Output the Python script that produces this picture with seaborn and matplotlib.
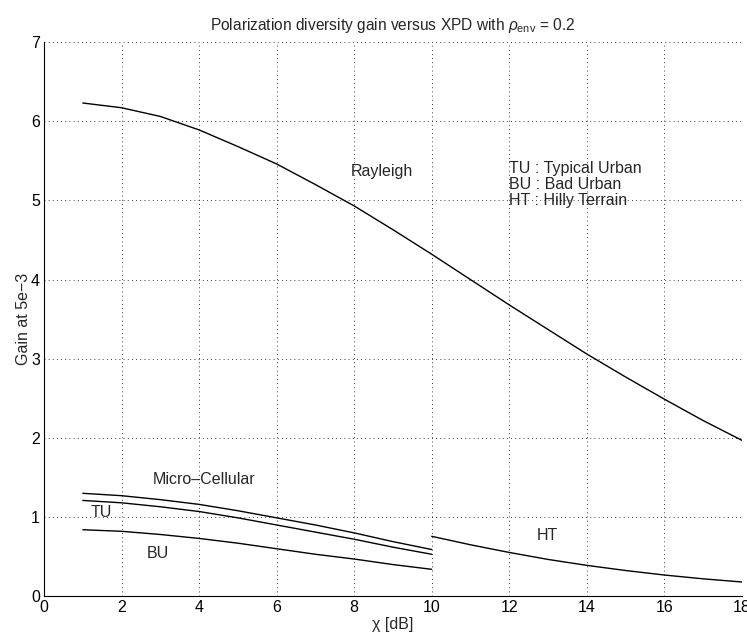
import matplotlib
matplotlib.use("Agg")
import matplotlib.pyplot as plt
import seaborn as sns
import pandas as pd

sns.set_style("white")
plt.rcParams['font.family'] = ['Liberation Sans', 'DejaVu Sans']
plt.rcParams['mathtext.fontset'] = 'custom'
plt.rcParams['mathtext.rm'] = 'Liberation Sans'
plt.rcParams['mathtext.it'] = 'Liberation Sans:italic'

# Data
x_rayleigh = [1, 2, 3, 4, 5, 6, 7, 8, 9, 10, 11, 12, 13, 14, 15, 16, 17, 18]
y_rayleigh = [6.23, 6.17, 6.06, 5.89, 5.68, 5.46, 5.20, 4.93, 4.63, 4.32, 4.00, 3.68, 3.37, 3.06, 2.77, 2.49, 2.22, 1.97]

x_low = [1, 2, 3, 4, 5, 6, 7, 8, 9, 10]
y_micro = [1.30, 1.27, 1.22, 1.16, 1.08, 0.99, 0.90, 0.80, 0.69, 0.59]
y_tu = [1.21, 1.18, 1.13, 1.07, 0.99, 0.90, 0.81, 0.72, 0.62, 0.53]
y_bu = [0.84, 0.82, 0.78, 0.73, 0.67, 0.60, 0.53, 0.47, 0.40, 0.34]

x_ht = [10, 11, 12, 13, 14, 15, 16, 17, 18]
y_ht = [0.757, 0.65, 0.553, 0.465, 0.39, 0.325, 0.268, 0.22, 0.18]

x_ticks = [0, 2, 4, 6, 8, 10, 12, 14, 16, 18]
y_ticks = [0, 1, 2, 3, 4, 5, 6, 7]

frames = []
for name, xs, ys in [("Rayleigh", x_rayleigh, y_rayleigh),
                     ("Micro", x_low, y_micro),
                     ("TU", x_low, y_tu),
                     ("BU", x_low, y_bu),
                     ("HT", x_ht, y_ht)]:
    frames.append(pd.DataFrame({"x": xs, "y": ys, "series": name}))
df = pd.concat(frames, ignore_index=True)

fig = plt.figure(figsize=(7.47, 6.37), dpi=100)
ax = fig.add_axes([0.059, 0.064, 0.934, 0.870])

sns.lineplot(data=df, x="x", y="y", units="series", estimator=None,
             color="black", linewidth=1.0, ax=ax, legend=False)

FS = 11.5
ax.set_xlim(0, 18)
ax.set_ylim(0, 7)
ax.set_xticks(x_ticks)
ax.set_yticks(y_ticks)
ax.tick_params(direction="in", length=5, width=0.8, labelsize=FS, colors="black", pad=3)
ax.grid(True, linestyle=(0, (1, 4)), color="black", linewidth=0.6)
for s in ["top", "right"]:
    ax.spines[s].set_visible(False)
for s in ["left", "bottom"]:
    ax.spines[s].set_color("black")
    ax.spines[s].set_linewidth(0.8)

ax.set_xlabel("χ [dB]", fontsize=FS, labelpad=1)
ax.set_ylabel("Gain at 5e−3", fontsize=FS, labelpad=0)
ax.set_title(r"Polarization diversity gain versus XPD with $\rho_{\mathrm{env}}$ = 0.2",
             fontsize=11.2, pad=9)

ax.text(7.9, 5.36, "Rayleigh", fontsize=FS, va="center")
ax.text(12.0, 5.2, "TU : Typical Urban\nBU : Bad Urban\nHT : Hilly Terrain",
        fontsize=FS, va="center", linespacing=1.12)
ax.text(2.8, 1.47, "Micro–Cellular", fontsize=FS, va="center")
ax.text(1.2, 1.06, "TU", fontsize=FS, va="center")
ax.text(2.65, 0.54, "BU", fontsize=FS, va="center")
ax.text(12.7, 0.77, "HT", fontsize=FS, va="center")

fig.savefig("out.png", dpi=100)
